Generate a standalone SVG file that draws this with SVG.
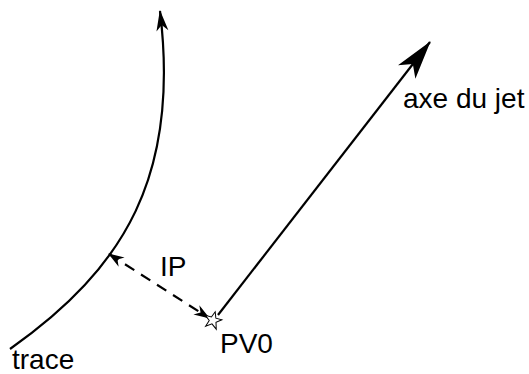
<svg xmlns="http://www.w3.org/2000/svg" width="529" height="374" viewBox="0 0 529 374">
<style>
.ln{fill:none;stroke:#000;stroke-width:2.2}
.ds{stroke-dasharray:11 8}
.lb{font-family:"Liberation Sans",Arial,sans-serif;font-size:28px;fill:#000}
</style>
<defs>
<marker id="big" markerUnits="userSpaceOnUse" orient="auto" refX="0" refY="0" viewBox="-40 -12 42 24" markerWidth="42" markerHeight="24" overflow="visible">
<path d="M1,0 L-38,-11 L-28,0 L-38,11 Z" fill="#000"/>
</marker>
<marker id="sm" markerUnits="userSpaceOnUse" orient="auto" refX="0" refY="0" viewBox="-22 -8 24 16" markerWidth="24" markerHeight="16" overflow="visible">
<path d="M1,0 L-20,-6 L-14,0 L-20,6 Z" fill="#000"/>
</marker>
<marker id="ds" markerUnits="userSpaceOnUse" orient="auto-start-reverse" refX="0" refY="0" viewBox="-16 -6 18 12" markerWidth="18" markerHeight="12" overflow="visible">
<path d="M1,0 L-15,-5.5 L-10,0 L-15,5.5 Z" fill="#000"/>
</marker>
</defs>
<g id="connectors">
<path id="trace-line" class="ln" d="M10,349 C125,268 180,175 160,11" marker-end="url(#sm)"/>
<path id="jet-line" class="ln" d="M218,315 L430,42" marker-end="url(#big)"/>
<path id="ip-line" class="ln ds" d="M109,254 L209,318" marker-start="url(#ds)" marker-end="url(#ds)"/>
</g>
<g id="pv0">
<polygon points="213,311.5 215.3,317.5 221.5,317.5 216.5,321.5 218.5,328 213,324 207.5,328 209.5,321.5 204.5,317.5 210.7,317.5" fill="#fff" stroke="#000" stroke-width="1" transform="rotate(15 213 320)"/>
<text class="lb" x="220" y="353">PV0</text>
</g>
<g id="ip"><text class="lb" x="160" y="276">IP</text></g>
<g id="trace"><text class="lb" x="12" y="369">trace</text></g>
<g id="jet"><text class="lb" x="403" y="108">axe du jet</text></g>
</svg>
